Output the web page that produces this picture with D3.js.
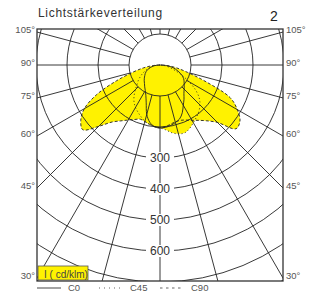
<!DOCTYPE html>
<html>
<head>
<meta charset="utf-8">
<script src="https://cdn.jsdelivr.net/npm/d3@7"></script>
<style>
body { margin: 0; background: #fff; }
svg { display: block; font-family: "Liberation Sans", Arial, sans-serif; }
</style>
</head>
<body>
<svg id="chart" width="318" height="296"></svg>
<script>
// gamma angles (deg from nadir), one value per half plane
var gamma = [0, 5, 10, 15, 20, 25, 30, 35, 40, 45, 50, 55, 60, 65, 70, 75, 80, 85, 90];
var c0   = [203, 202, 198, 192, 185, 170, 150, 135, 120, 110, 102, 95, 88, 78, 65, 52, 38, 20, 0];
var c180 = [203, 200, 188, 165, 130, 108, 95, 86, 78, 72, 66, 60, 55, 49, 42, 33, 24, 12, 0];
var c45  = [203, 210, 222, 230, 233, 226, 215, 205, 195, 182, 165, 140, 108, 78, 52, 35, 20, 9, 0];
var c225 = [203, 200, 195, 188, 178, 168, 158, 146, 130, 112, 96, 85, 72, 60, 47, 35, 22, 11, 0];
var c90  = [203, 200, 194, 190, 190, 196, 206, 218, 235, 262, 320, 315, 288, 250, 158, 92, 55, 25, 0];
var c270 = [203, 200, 194, 189, 186, 194, 205, 220, 240, 280, 325, 312, 282, 225, 150, 92, 55, 25, 0];

var rings = [100, 200, 300, 400, 500, 600, 700, 800];
var ringLabels = [300, 400, 500, 600];
var sideAngles = [105, 90, 75, 60, 45, 30];
var legendNames = ['C0', 'C45', 'C90'];

const svg = d3.select('#chart');
const cx = 160, cy = 65;
const frame = {x0: 37, x1: 283, y0: 29, y1: 281};
const r = d3.scaleLinear().domain([0, 100]).range([0, 31]);
const yellow = '#fff200';

svg.append('defs').append('clipPath').attr('id', 'clip')
    .append('rect')
    .attr('x', frame.x0).attr('y', frame.y0)
    .attr('width', frame.x1 - frame.x0).attr('height', frame.y1 - frame.y0);

const plot = svg.append('g').attr('clip-path', 'url(#clip)');
const g = plot.append('g').attr('transform', 'translate(' + cx + ',' + cy + ')');

// build a full C-plane curve: left half (negative gamma) then right half
function plane(left, right) {
    var pts = [];
    for (var i = gamma.length - 1; i >= 0; i--) pts.push([-gamma[i], left[i]]);
    for (var j = 1; j < gamma.length; j++) pts.push([gamma[j], right[j]]);
    return pts;
}
const curves = [
    {name: 'C0', pts: plane(c180, c0), dash: null},
    {name: 'C45', pts: plane(c225, c45), dash: '1,2.5'},
    {name: 'C90', pts: plane(c270, c90), dash: '3,2'}
];

const line = d3.lineRadial()
    .angle(function (d) { return Math.PI - d[0] * Math.PI / 180; })
    .radius(function (d) { return r(d[1]); })
    .curve(d3.curveCatmullRom);

// yellow fills
g.selectAll('.fill')
    .data(curves)
    .enter().append('path')
    .attr('class', 'fill')
    .attr('d', function (d) { return line(d.pts) + 'Z'; })
    .attr('fill', yellow)
    .attr('stroke', 'none');

// grid circles
g.selectAll('.ring')
    .data(rings)
    .enter().append('circle')
    .attr('r', function (d) { return r(d); })
    .attr('fill', 'none')
    .attr('stroke', '#222')
    .attr('stroke-width', 0.9);

// radial lines every 15 deg, starting at the 100 ring
g.selectAll('.spoke')
    .data(d3.range(0, 360, 15))
    .enter().append('line')
    .attr('x1', function (a) { return r(100) * Math.sin(a * Math.PI / 180); })
    .attr('y1', function (a) { return r(100) * Math.cos(a * Math.PI / 180); })
    .attr('x2', function (a) { return r(1000) * Math.sin(a * Math.PI / 180); })
    .attr('y2', function (a) { return r(1000) * Math.cos(a * Math.PI / 180); })
    .attr('stroke', '#222')
    .attr('stroke-width', 0.9);

// curve outlines
g.selectAll('.outline')
    .data(curves)
    .enter().append('path')
    .attr('d', function (d) { return line(d.pts) + 'Z'; })
    .attr('fill', 'none')
    .attr('stroke', '#222')
    .attr('stroke-width', 0.9)
    .attr('stroke-dasharray', function (d) { return d.dash; });

// ring value labels on the vertical axis
const lab = g.selectAll('.rlab')
    .data(ringLabels)
    .enter().append('g')
    .attr('transform', function (d) { return 'translate(0,' + r(d) + ')'; });
lab.append('rect')
    .attr('x', -14).attr('y', -6).attr('width', 28).attr('height', 12)
    .attr('fill', '#fff');
lab.append('text')
    .attr('text-anchor', 'middle')
    .attr('dy', '0.36em')
    .attr('font-size', 12)
    .attr('fill', '#333')
    .text(function (d) { return d; });

// frame
svg.append('rect')
    .attr('x', frame.x0).attr('y', frame.y0)
    .attr('width', frame.x1 - frame.x0).attr('height', frame.y1 - frame.y0)
    .attr('fill', 'none')
    .attr('stroke', '#333')
    .attr('stroke-width', 1.3);

// unit box
svg.append('rect')
    .attr('x', 38).attr('y', 266).attr('width', 50).attr('height', 14)
    .attr('fill', yellow)
    .attr('stroke', '#555')
    .attr('stroke-width', 0.8);
svg.append('text')
    .attr('x', 44).attr('y', 278)
    .attr('font-size', 10)
    .attr('fill', '#444')
    .text('I ( cd/klm)');

// side angle labels
function sideY(a) {
    return cy + (frame.x1 - cx) * Math.cos(a * Math.PI / 180) / Math.sin(a * Math.PI / 180) - 2;
}
svg.selectAll('.lab-l')
    .data(sideAngles)
    .enter().append('text')
    .attr('x', frame.x0 - 2)
    .attr('y', sideY)
    .attr('dy', '0.35em')
    .attr('text-anchor', 'end')
    .attr('font-size', 9.5)
    .attr('fill', '#555')
    .text(function (d) { return d + '°'; });
svg.selectAll('.lab-r')
    .data(sideAngles)
    .enter().append('text')
    .attr('x', frame.x1 + 3)
    .attr('y', sideY)
    .attr('dy', '0.35em')
    .attr('font-size', 9.5)
    .attr('fill', '#555')
    .text(function (d) { return d + '°'; });

// title
svg.append('text')
    .attr('x', 38).attr('y', 17)
    .attr('font-size', 12)
    .attr('letter-spacing', '0.7px')
    .attr('fill', '#333')
    .text('Lichtstärkeverteilung');
svg.append('text')
    .attr('x', 270).attr('y', 21)
    .attr('font-size', 14)
    .attr('fill', '#222')
    .text('2');

// legend
const legend = svg.append('g').attr('transform', 'translate(0,288)');
const legX = [37, 99, 160];
const legDash = [null, '1,4', '2.5,3.5'];
legend.selectAll('line')
    .data(legendNames)
    .enter().append('line')
    .attr('x1', function (d, i) { return legX[i]; })
    .attr('x2', function (d, i) { return legX[i] + 24; })
    .attr('y1', 0).attr('y2', 0)
    .attr('stroke', '#666')
    .attr('stroke-width', 1.2)
    .attr('stroke-dasharray', function (d, i) { return legDash[i]; });
legend.selectAll('text')
    .data(legendNames)
    .enter().append('text')
    .attr('x', function (d, i) { return legX[i] + 31; })
    .attr('dy', '0.35em')
    .attr('font-size', 9.5)
    .attr('fill', '#555')
    .text(function (d) { return d; });
</script>
</body>
</html>
